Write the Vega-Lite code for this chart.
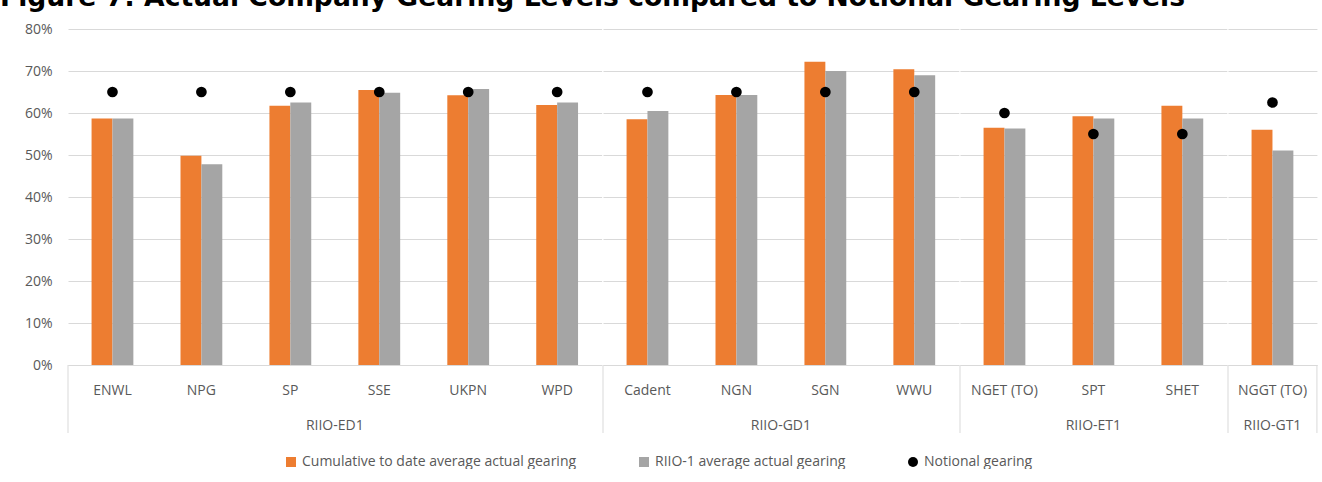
{
  "$schema": "https://vega.github.io/schema/vega-lite/v6.json",
  "padding": {"left": 0, "top": -15, "right": 0, "bottom": 0},
  "background": "white",
  "title": {"text": "Figure 7: Actual Company Gearing Levels compared to Notional Gearing Levels", "anchor": "start", "font": "DejaVu Sans", "fontSize": 26.6, "fontWeight": "bold", "color": "#000000", "offset": 10, "frame": "bounds"},
  "data": {"values": [
    {"group": "RIIO-ED1", "company": "ENWL", "series": "Cumulative to date average actual gearing", "value": 0.587},
    {"group": "RIIO-ED1", "company": "ENWL", "series": "RIIO-1 average actual gearing", "value": 0.587},
    {"group": "RIIO-ED1", "company": "ENWL", "series": "Notional gearing", "value": 0.65},
    {"group": "RIIO-ED1", "company": "NPG", "series": "Cumulative to date average actual gearing", "value": 0.498},
    {"group": "RIIO-ED1", "company": "NPG", "series": "RIIO-1 average actual gearing", "value": 0.478},
    {"group": "RIIO-ED1", "company": "NPG", "series": "Notional gearing", "value": 0.65},
    {"group": "RIIO-ED1", "company": "SP", "series": "Cumulative to date average actual gearing", "value": 0.617},
    {"group": "RIIO-ED1", "company": "SP", "series": "RIIO-1 average actual gearing", "value": 0.625},
    {"group": "RIIO-ED1", "company": "SP", "series": "Notional gearing", "value": 0.65},
    {"group": "RIIO-ED1", "company": "SSE", "series": "Cumulative to date average actual gearing", "value": 0.655},
    {"group": "RIIO-ED1", "company": "SSE", "series": "RIIO-1 average actual gearing", "value": 0.648},
    {"group": "RIIO-ED1", "company": "SSE", "series": "Notional gearing", "value": 0.65},
    {"group": "RIIO-ED1", "company": "UKPN", "series": "Cumulative to date average actual gearing", "value": 0.642},
    {"group": "RIIO-ED1", "company": "UKPN", "series": "RIIO-1 average actual gearing", "value": 0.657},
    {"group": "RIIO-ED1", "company": "UKPN", "series": "Notional gearing", "value": 0.65},
    {"group": "RIIO-ED1", "company": "WPD", "series": "Cumulative to date average actual gearing", "value": 0.619},
    {"group": "RIIO-ED1", "company": "WPD", "series": "RIIO-1 average actual gearing", "value": 0.625},
    {"group": "RIIO-ED1", "company": "WPD", "series": "Notional gearing", "value": 0.65},
    {"group": "RIIO-GD1", "company": "Cadent", "series": "Cumulative to date average actual gearing", "value": 0.585},
    {"group": "RIIO-GD1", "company": "Cadent", "series": "RIIO-1 average actual gearing", "value": 0.605},
    {"group": "RIIO-GD1", "company": "Cadent", "series": "Notional gearing", "value": 0.65},
    {"group": "RIIO-GD1", "company": "NGN", "series": "Cumulative to date average actual gearing", "value": 0.643},
    {"group": "RIIO-GD1", "company": "NGN", "series": "RIIO-1 average actual gearing", "value": 0.643},
    {"group": "RIIO-GD1", "company": "NGN", "series": "Notional gearing", "value": 0.65},
    {"group": "RIIO-GD1", "company": "SGN", "series": "Cumulative to date average actual gearing", "value": 0.722},
    {"group": "RIIO-GD1", "company": "SGN", "series": "RIIO-1 average actual gearing", "value": 0.700},
    {"group": "RIIO-GD1", "company": "SGN", "series": "Notional gearing", "value": 0.65},
    {"group": "RIIO-GD1", "company": "WWU", "series": "Cumulative to date average actual gearing", "value": 0.704},
    {"group": "RIIO-GD1", "company": "WWU", "series": "RIIO-1 average actual gearing", "value": 0.690},
    {"group": "RIIO-GD1", "company": "WWU", "series": "Notional gearing", "value": 0.65},
    {"group": "RIIO-ET1", "company": "NGET (TO)", "series": "Cumulative to date average actual gearing", "value": 0.565},
    {"group": "RIIO-ET1", "company": "NGET (TO)", "series": "RIIO-1 average actual gearing", "value": 0.563},
    {"group": "RIIO-ET1", "company": "NGET (TO)", "series": "Notional gearing", "value": 0.60},
    {"group": "RIIO-ET1", "company": "SPT", "series": "Cumulative to date average actual gearing", "value": 0.592},
    {"group": "RIIO-ET1", "company": "SPT", "series": "RIIO-1 average actual gearing", "value": 0.587},
    {"group": "RIIO-ET1", "company": "SPT", "series": "Notional gearing", "value": 0.55},
    {"group": "RIIO-ET1", "company": "SHET", "series": "Cumulative to date average actual gearing", "value": 0.617},
    {"group": "RIIO-ET1", "company": "SHET", "series": "RIIO-1 average actual gearing", "value": 0.587},
    {"group": "RIIO-ET1", "company": "SHET", "series": "Notional gearing", "value": 0.55},
    {"group": "RIIO-GT1", "company": "NGGT (TO)", "series": "Cumulative to date average actual gearing", "value": 0.560},
    {"group": "RIIO-GT1", "company": "NGGT (TO)", "series": "RIIO-1 average actual gearing", "value": 0.511},
    {"group": "RIIO-GT1", "company": "NGGT (TO)", "series": "Notional gearing", "value": 0.625}
  ]},
  "transform": [{"window": [{"op": "row_number", "as": "pos"}], "groupby": ["group", "series"]}],
  "facet": {"column": {"field": "group", "type": "nominal", "sort": ["RIIO-ED1", "RIIO-GD1", "RIIO-ET1", "RIIO-GT1"], "header": {"title": null, "labelOrient": "bottom", "labelFont": "Open Sans", "labelFontSize": 14, "labelColor": "#595959", "labelPadding": -15}}},
  "spacing": 0,
  "resolve": {"scale": {"x": "independent"}},
  "spec": {
    "width": {"step": 20.9},
    "height": 336,
    "layer": [
      {
        "transform": [{"filter": "datum.series !== 'Notional gearing'"}],
        "mark": {"type": "bar"},
        "encoding": {
          "x": {"field": "company", "type": "nominal", "sort": ["ENWL", "NPG", "SP", "SSE", "UKPN", "WPD", "Cadent", "NGN", "SGN", "WWU", "NGET (TO)", "SPT", "SHET", "NGGT (TO)"], "scale": {"paddingInner": 0.53, "paddingOuter": 0.265}, "axis": {"title": null, "labelAngle": 0, "ticks": false, "domainColor": "#d9d9d9", "labelPadding": 18, "labelFont": "Open Sans", "labelFontSize": 14, "labelColor": "#595959"}},
          "xOffset": {"field": "series", "type": "nominal", "sort": ["Cumulative to date average actual gearing", "RIIO-1 average actual gearing"]},
          "y": {"field": "value", "type": "quantitative", "scale": {"domain": [0, 0.8], "nice": false}, "axis": {"title": null, "format": ".0%", "tickCount": 8, "domain": false, "ticks": false, "gridColor": "#d9d9d9", "labelPadding": 15, "minExtent": 67, "labelFont": "Open Sans", "labelFontSize": 14, "labelColor": "#595959"}},
          "color": {"field": "series", "type": "nominal", "scale": {"domain": ["Cumulative to date average actual gearing", "RIIO-1 average actual gearing", "Notional gearing"], "range": ["#ED7D31", "#A5A5A5", "#000000"]}, "legend": {"title": null, "orient": "bottom", "direction": "horizontal", "offset": 21, "labelFont": "Open Sans", "labelFontSize": 14, "labelColor": "#595959", "labelLimit": 500, "symbolSize": 100, "symbolStrokeWidth": 0, "labelOffset": 4, "columnPadding": 60, "encode": {"symbols": {"update": {"shape": {"signal": "datum.value === 'Notional gearing' ? 'circle' : 'square'"}}}}}}
        }
      },
      {
        "transform": [{"filter": "datum.series === 'Notional gearing'"}],
        "mark": {"type": "point", "filled": true, "shape": "circle", "size": 115, "opacity": 1},
        "encoding": {
          "x": {"field": "company", "type": "nominal", "sort": ["ENWL", "NPG", "SP", "SSE", "UKPN", "WPD", "Cadent", "NGN", "SGN", "WWU", "NGET (TO)", "SPT", "SHET", "NGGT (TO)"]},
          "y": {"field": "value", "type": "quantitative"},
          "color": {"field": "series", "type": "nominal"}
        }
      },
      {
        "transform": [{"filter": "datum.series === 'Notional gearing' && datum.pos === 1"}],
        "mark": {"type": "rule", "color": "#d9d9d9", "strokeWidth": 1, "clip": false},
        "encoding": {
          "x": {"field": "company", "type": "nominal", "sort": ["ENWL", "NPG", "SP", "SSE", "UKPN", "WPD", "Cadent", "NGN", "SGN", "WWU", "NGET (TO)", "SPT", "SHET", "NGGT (TO)"], "bandPosition": -0.5638},
          "y": {"datum": 0},
          "y2": {"datum": -0.162}
        }
      },
      {
        "transform": [{"filter": "datum.series === 'Notional gearing' && datum.company === 'NGGT (TO)'"}],
        "mark": {"type": "rule", "color": "#d9d9d9", "strokeWidth": 1, "clip": false},
        "encoding": {
          "x": {"field": "company", "type": "nominal", "sort": ["ENWL", "NPG", "SP", "SSE", "UKPN", "WPD", "Cadent", "NGN", "SGN", "WWU", "NGET (TO)", "SPT", "SHET", "NGGT (TO)"], "bandPosition": 1.5638},
          "y": {"datum": 0},
          "y2": {"datum": -0.162}
        }
      }
    ]
  },
  "config": {"view": {"stroke": null}, "legend": {"layout": {"bottom": {"anchor": "middle"}}}}
}
